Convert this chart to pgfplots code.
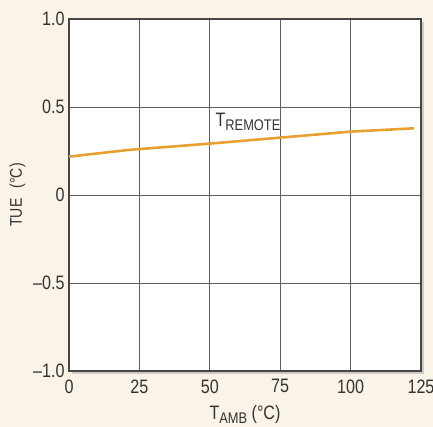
\documentclass[border=0pt]{standalone}
\usepackage{pgfplots}
\pgfplotsset{compat=1.18}
\usepackage{fontspec}
\setmainfont[FakeStretch=0.83]{Liberation Sans}
\usetikzlibrary{backgrounds,shadows}
\definecolor{bgc}{RGB}{250,243,232}
\definecolor{lineor}{RGB}{232,160,48}
\definecolor{gridc}{RGB}{95,95,95}
\definecolor{framec}{RGB}{70,70,70}
\newcommand{\bigf}{\fontsize{19.5}{22}\selectfont}
\newcommand{\subf}{\fontsize{15.5}{18}\selectfont}
\begin{document}
\begin{tikzpicture}
\begin{axis}[
  name=ax,
  scale only axis,
  width=352bp, height=352bp,
  xmin=0, xmax=125, ymin=-1, ymax=1,
  xtick={0,25,50,75,100,125},
  ytick={-1,-0.5,0,0.5,1},
  yticklabels={\textendash1.0,\textendash0.5,0,0.5,1.0},
  xticklabels={0,25,50,75,100,125},
  tick style={draw=none},
  grid=major,
  major grid style={gridc, line width=0.8pt},
  axis line style={framec, line width=1.6pt},
  axis background/.style={fill=white, drop shadow={shadow xshift=3bp, shadow yshift=-3bp, opacity=0.35}},
  ticklabel style={font=\bigf, text=black!80},
  /pgf/number format/assume math mode=true,
  xticklabel style={yshift=-5bp},
  yticklabel style={xshift=-1bp},
  xlabel={T\raisebox{-0.4ex}{\subf AMB} (°C)},
  ylabel={TUE\hspace{0.6em}(°C)},
  xlabel style={font=\bigf, text=black!80, at={(axis description cs:0.5,0)}, anchor=north, yshift=-34bp, inner sep=0pt},
  ylabel style={font=\fontsize{17}{20}\selectfont, text=black!80, at={(axis description cs:0,0.5)}, anchor=south, yshift=40bp},
  clip=false,
]
\addplot[lineor, line width=2.6pt] coordinates {
  (0,0.218) (10,0.236) (20,0.254) (25,0.261) (50,0.292) (75,0.326) (100,0.36) (122.5,0.379)
};
\node[anchor=base west, font=\bigf, text=black!80, inner sep=0pt] at (axis cs:52,0.39) {T\raisebox{-0.4ex}{\subf REMOTE}};
\end{axis}
\begin{scope}[on background layer]
\fill[bgc] ([xshift=-69bp,yshift=-56bp]ax.south west) rectangle ([xshift=12bp,yshift=19bp]ax.north east);
\end{scope}
\pgfresetboundingbox
\path[use as bounding box] ([xshift=-69bp,yshift=-56bp]ax.south west) rectangle ([xshift=12bp,yshift=19bp]ax.north east);
\end{tikzpicture}
\end{document}
